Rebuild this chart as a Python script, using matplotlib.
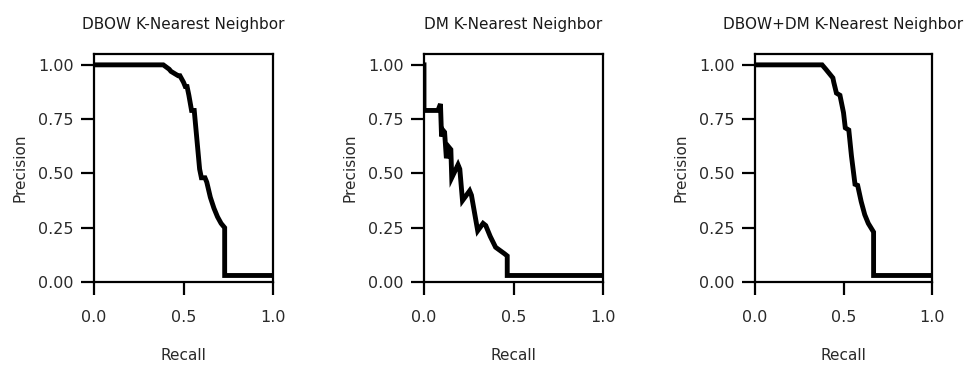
import matplotlib
matplotlib.use("Agg")
import matplotlib.pyplot as plt

titles = ["DBOW K-Nearest Neighbor", "DM K-Nearest Neighbor", "DBOW+DM K-Nearest Neighbor"]

dbow_recall = [0.0, 0.0, 0.387, 0.42, 0.43, 0.47, 0.48, 0.50, 0.51, 0.52, 0.53, 0.545, 0.56, 0.57, 0.59, 0.60, 0.62, 0.63, 0.65, 0.67, 0.69, 0.71, 0.73, 0.73, 1.0]
dbow_prec   = [1.0, 1.0, 1.0, 0.98, 0.97, 0.95, 0.95, 0.92, 0.90, 0.90, 0.86, 0.79, 0.79, 0.70, 0.52, 0.48, 0.48, 0.46, 0.39, 0.34, 0.30, 0.27, 0.25, 0.03, 0.03]

dm_recall = [0.0, 0.0, 0.078, 0.092, 0.098, 0.105, 0.115, 0.125, 0.14, 0.15, 0.155, 0.19, 0.20, 0.215, 0.255, 0.265, 0.30, 0.33, 0.345, 0.37, 0.40, 0.45, 0.465, 0.465, 1.0]
dm_prec   = [1.0, 0.79, 0.79, 0.82, 0.67, 0.70, 0.69, 0.57, 0.62, 0.61, 0.48, 0.54, 0.52, 0.375, 0.42, 0.40, 0.236, 0.27, 0.26, 0.21, 0.16, 0.13, 0.12, 0.03, 0.03]

combo_recall = [0.0, 0.379, 0.40, 0.41, 0.44, 0.445, 0.46, 0.48, 0.50, 0.51, 0.53, 0.545, 0.565, 0.58, 0.60, 0.62, 0.64, 0.655, 0.67, 0.67, 1.0]
combo_prec   = [1.0, 1.0, 0.98, 0.97, 0.94, 0.92, 0.87, 0.86, 0.78, 0.71, 0.70, 0.58, 0.45, 0.445, 0.37, 0.31, 0.27, 0.25, 0.23, 0.03, 0.03]

series = [(dbow_recall, dbow_prec), (dm_recall, dm_prec), (combo_recall, combo_prec)]

xticks = [0.0, 0.5, 1.0]
yticks = [0.00, 0.25, 0.50, 0.75, 1.00]

plt.rcParams['font.family'] = ['DejaVu Sans']
fig = plt.figure(figsize=(9.77, 3.66), dpi=100)
W, H = 977, 366
lefts = [94, 424, 755]
rights = [273, 603, 932]
top, bottom = 54, 282

for i in range(3):
    ax = fig.add_axes([lefts[i] / W, 1 - bottom / H, (rights[i] - lefts[i]) / W, (bottom - top) / H])
    r, p = series[i]
    ax.plot(r, p, color='black', lw=3.5, solid_joinstyle='miter')
    ax.set_xlim(0, 1.0)
    ax.set_ylim(0, 1.05)
    ax.set_xticks(xticks)
    ax.set_xticklabels([f"{t:.1f}" for t in xticks])
    ax.set_yticks(yticks)
    ax.set_yticklabels([f"{t:.2f}" for t in yticks])
    ax.tick_params(length=9.5, width=1.6, labelsize=11.5, colors='black', labelcolor='#2a2a2a')
    ax.tick_params(axis='x', pad=11)
    ax.tick_params(axis='y', pad=5)
    for s in ax.spines.values():
        s.set_linewidth(1.6)
    ax.set_title(titles[i], fontsize=11, pad=18, color='#1a1a1a')
    ax.set_xlabel("Recall", fontsize=11, labelpad=16, color='#2a2a2a')
    ax.set_ylabel("Precision", fontsize=11, labelpad=8, color='#2a2a2a')

fig.savefig("out.png", dpi=100, facecolor='white')
